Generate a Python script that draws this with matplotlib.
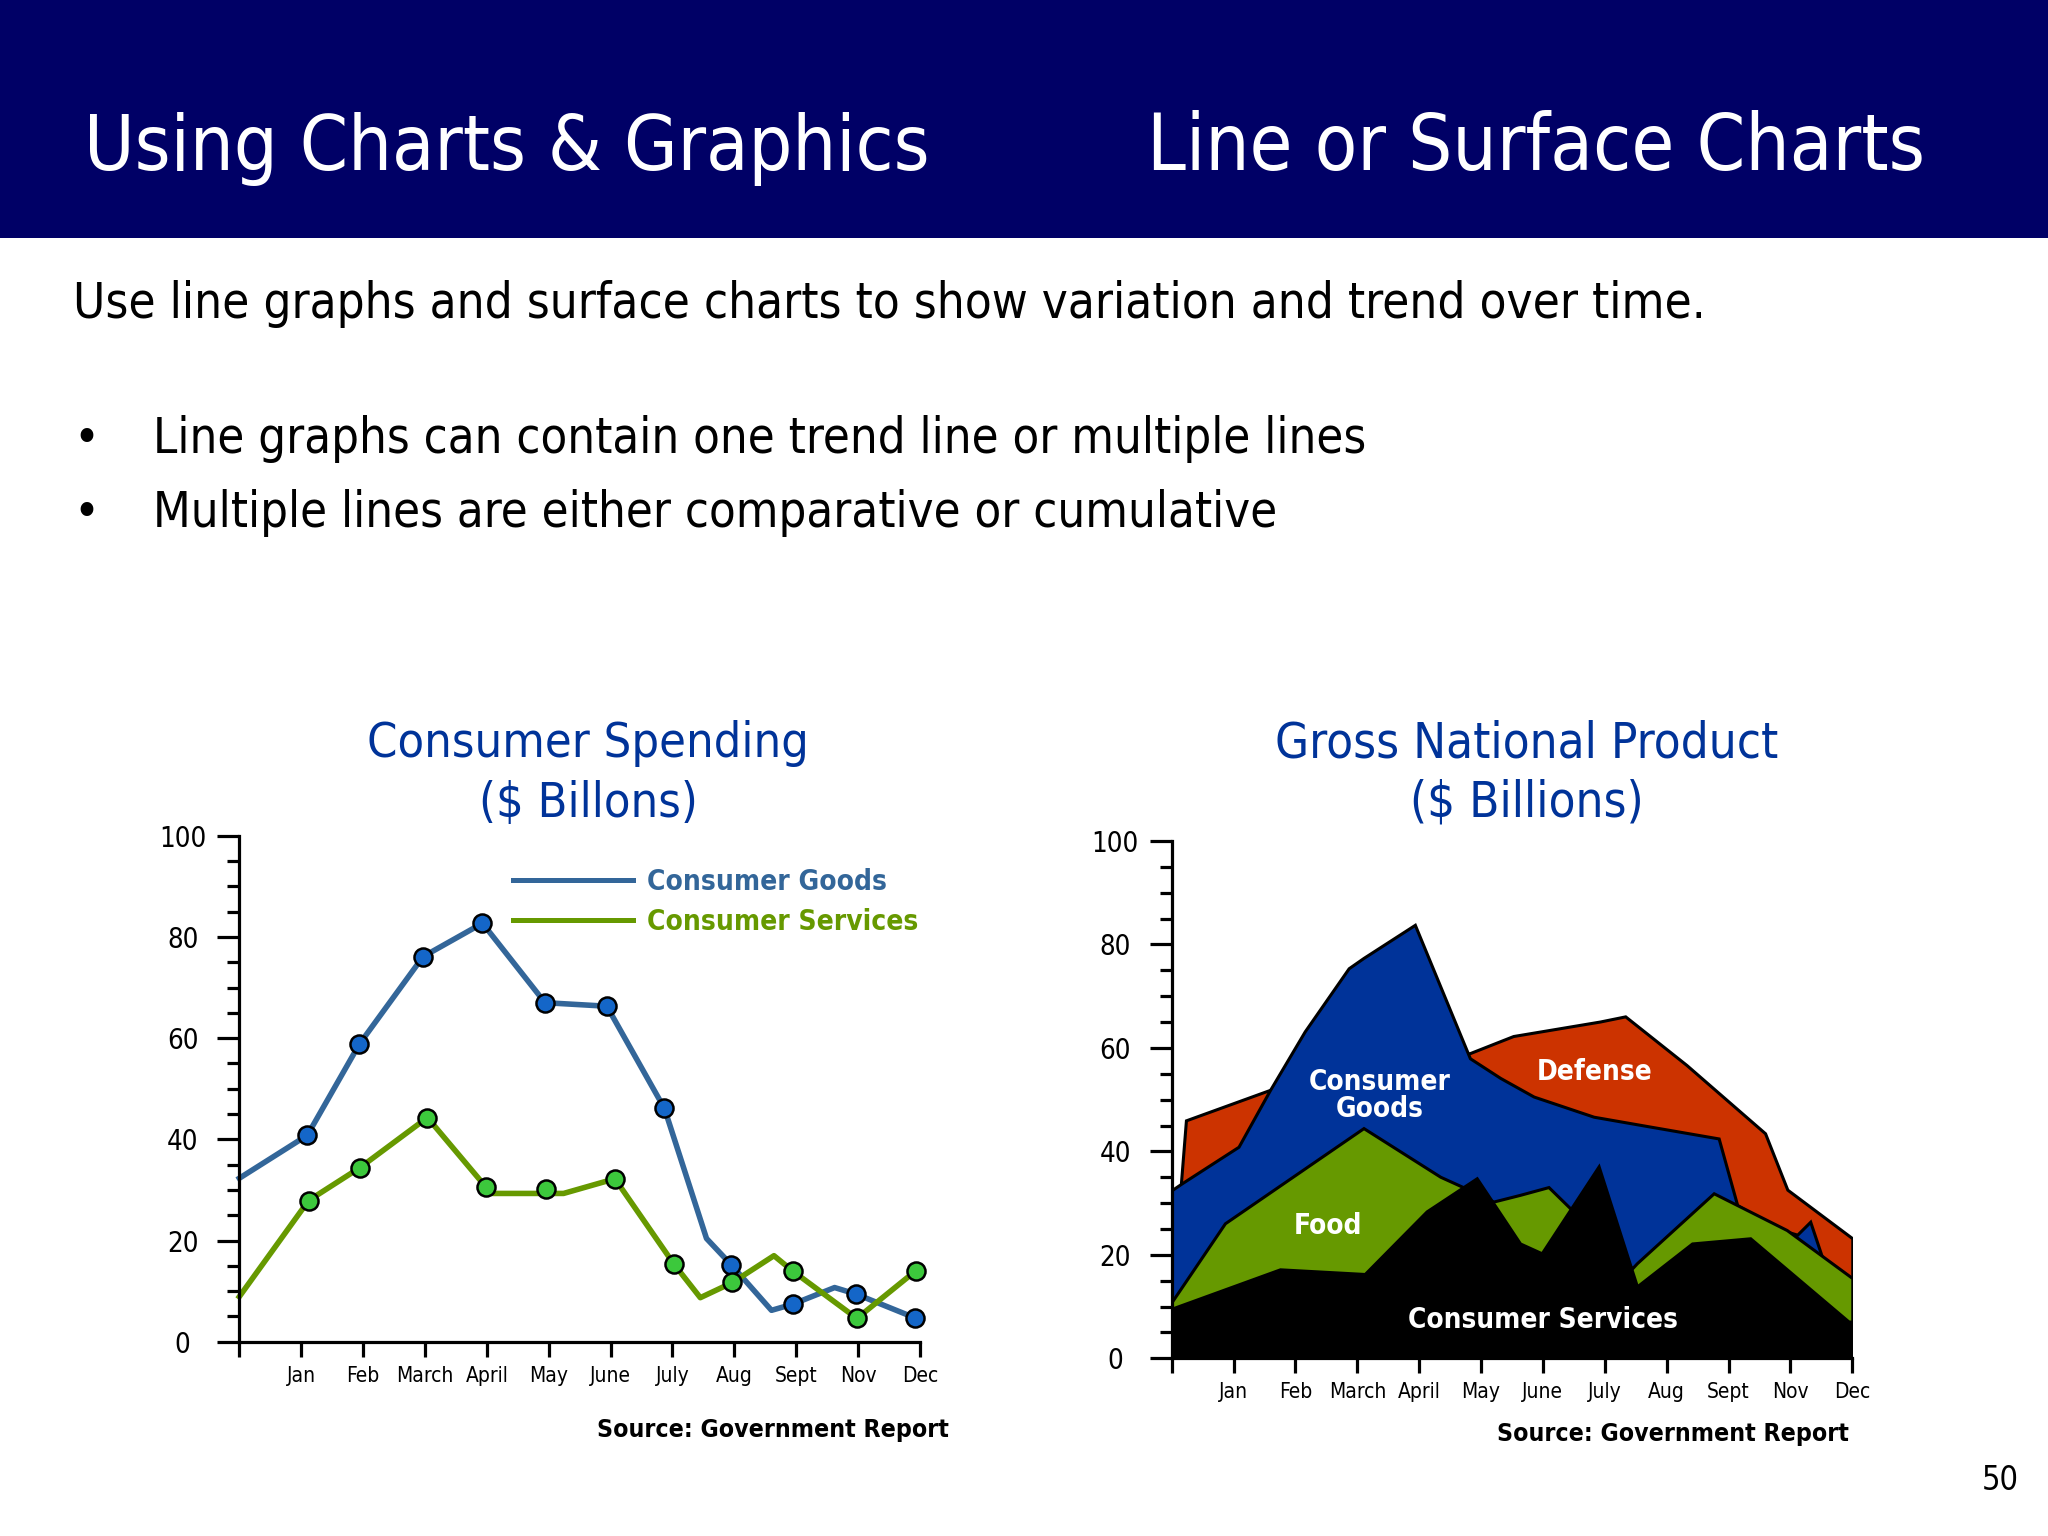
import os
import matplotlib
matplotlib.use('Agg')
import matplotlib.pyplot as plt
from matplotlib import font_manager as fm
from matplotlib.patches import Rectangle
from matplotlib.lines import Line2D
from matplotlib.ticker import MultipleLocator, FixedLocator

# ---------------- data ----------------
month_labels = ['', 'Jan', 'Feb', 'March', 'April', 'May', 'June', 'July', 'Aug', 'Sept', 'Nov', 'Dec']
y_ticks = [0, 20, 40, 60, 80, 100]

# Consumer Spending (line chart)
goods_x = [0, 1.10, 1.94, 2.97, 3.93, 4.94, 5.94, 6.87, 7.55, 7.95, 8.60, 8.94, 9.62, 9.97, 10.92]
goods_y = [32.3, 40.8, 58.8, 76.1, 82.7, 67.0, 66.3, 46.1, 20.4, 15.2, 6.2, 7.4, 10.7, 9.4, 4.7]
goods_mx = [1.10, 1.94, 2.97, 3.93, 4.94, 5.94, 6.87, 7.95, 8.94, 9.97, 10.92]
goods_my = [40.8, 58.8, 76.1, 82.7, 67.0, 66.3, 46.1, 15.2, 7.4, 9.4, 4.7]

services_x = [0, 1.12, 1.95, 3.04, 3.99, 4.10, 5.24, 6.07, 7.02, 7.45, 7.97, 8.64, 8.94, 9.98, 10.93]
services_y = [8.9, 27.9, 34.4, 44.3, 30.5, 29.3, 29.3, 32.2, 15.4, 8.7, 11.7, 17.0, 14.0, 4.6, 14.0]
services_mx = [1.12, 1.95, 3.04, 3.99, 4.95, 6.07, 7.02, 7.97, 8.94, 9.98, 10.93]
services_my = [27.9, 34.4, 44.3, 30.5, 30.1, 32.2, 15.4, 11.7, 14.0, 4.6, 14.0]

# Gross National Product (surface chart, overlapping areas)
defense_x = [0.15, 0.23, 1.59, 3.00, 4.82, 5.52, 6.92, 7.33, 8.32, 9.59, 9.95, 11.0]
defense_y = [34.0, 46.0, 51.9, 56.0, 59.0, 62.3, 65.1, 66.1, 56.7, 43.5, 32.6, 23.2]

cgoods_x = [0, 0.16, 1.08, 1.59, 2.15, 2.86, 3.10, 3.93, 4.82, 5.31, 5.85, 6.82, 7.73, 8.84, 9.14, 9.80, 10.11, 10.32, 10.51, 11.0]
cgoods_y = [32.5, 33.8, 40.9, 51.9, 63.2, 75.4, 77.4, 83.8, 58.0, 54.2, 50.6, 46.7, 44.8, 42.5, 29.6, 25.0, 23.9, 26.4, 19.6, 14.0]

food_x = [0, 0.86, 3.10, 4.34, 4.69, 5.20, 5.63, 6.09, 6.44, 7.00, 7.45, 7.52, 8.76, 9.94, 11.0]
food_y = [10.9, 26.1, 44.5, 35.1, 33.2, 30.3, 31.6, 33.1, 29.0, 20.0, 17.5, 18.4, 31.9, 24.8, 15.5]

cserv_x = [0, 1.75, 3.12, 4.12, 4.93, 5.63, 5.98, 6.90, 7.52, 8.41, 9.35, 10.94, 11.0]
cserv_y = [9.6, 17.2, 16.3, 28.4, 34.8, 22.2, 20.3, 37.1, 13.9, 22.2, 23.2, 7.1, 7.1]

# ---------------- style ----------------
C_NAVY = '#000066'
C_TITLE = '#003399'
C_GOODS = '#336699'
C_SERV = '#669900'
C_GOODS_M = '#1466c8'
C_SERV_M = '#3cc83c'
C_RED = '#cc3300'
C_BLUE = '#003399'
C_GREEN = '#669900'

W, H, DPI = 2048, 1536, 100


def _find(name):
    paths = [f.fname for f in fm.fontManager.ttflist]
    try:
        paths += fm.findSystemFonts()
    except Exception:
        pass
    for p in paths:
        if os.path.basename(p).lower() == name.lower():
            return p
    return None


REG = _find('DejaVuSansCondensed.ttf')
BLD = _find('DejaVuSansCondensed-Bold.ttf')
FALLBACK = 'DejaVu Sans'


def fp(size, bold=False):
    path = BLD if bold else REG
    if path:
        return fm.FontProperties(fname=path, size=size)
    return fm.FontProperties(family=FALLBACK, weight='bold' if bold else 'normal', size=size)


fig = plt.figure(figsize=(W / DPI, H / DPI), dpi=DPI)
fig.patch.set_facecolor('white')
renderer = fig.canvas.get_renderer()


def put(x, y, s, size, target_w=None, bold=False, color='black', ha='left', va='baseline'):
    t = fig.text(x / W, 1 - y / H, s, fontproperties=fp(size, bold), color=color, ha=ha, va=va)
    if target_w:
        for _ in range(2):
            w = t.get_window_extent(renderer).width
            size = size * target_w / w
            t.set_fontproperties(fp(size, bold))
    return t, size


def fit_size(s, target_w, size, bold=False):
    t = fig.text(0, 0, s, fontproperties=fp(size, bold))
    for _ in range(2):
        w = t.get_window_extent(renderer).width
        size = size * target_w / w
        t.set_fontproperties(fp(size, bold))
    t.remove()
    return size


# ---------------- header ----------------
fig.add_artist(Rectangle((0, 1 - 238 / H), 1, 238 / H, transform=fig.transFigure,
                         facecolor=C_NAVY, edgecolor='none', zorder=0))
put(84, 170, 'Using Charts & Graphics', 58, target_w=846, color='white')
put(1147, 170, 'Line or Surface Charts', 58, target_w=778, color='white')

put(73, 318, 'Use line graphs and surface charts to show variation and trend over time.', 34, target_w=1630)
_, bsize = put(153, 453, 'Line graphs can contain one trend line or multiple lines', 34, target_w=1216)
put(153, 527, 'Multiple lines are either comparative or cumulative', bsize)
put(86, 453, '\u2022', bsize, ha='center')
put(86, 527, '\u2022', bsize, ha='center')

# ---------------- chart titles ----------------
_, tsize = put(588, 757, 'Consumer Spending', 34, target_w=440, color=C_TITLE, ha='center')
put(588, 817, '($ Billons)', tsize, color=C_TITLE, ha='center')
_, tsize2 = put(1527, 757, 'Gross National Product', 34, target_w=504, color=C_TITLE, ha='center')
put(1527, 817, '($ Billions)', tsize2, color=C_TITLE, ha='center')


# ---------------- axes ----------------
def setup_axes(l, r, b, t):
    ax = fig.add_axes([l / W, 1 - b / H, (r - l) / W, (b - t) / H])
    ax.set_xlim(0, 11)
    ax.set_ylim(0, 100)
    ax.patch.set_alpha(0)
    for s in ('top', 'right'):
        ax.spines[s].set_visible(False)
    for s in ('left', 'bottom'):
        ax.spines[s].set_linewidth(2.3)
        ax.spines[s].set_zorder(6)
        ax.spines[s].set_capstyle('projecting')
    ax.yaxis.set_major_locator(FixedLocator(y_ticks))
    ax.yaxis.set_minor_locator(MultipleLocator(5))
    ax.set_yticklabels([str(v) for v in y_ticks])
    ax.xaxis.set_major_locator(FixedLocator(list(range(len(month_labels)))))
    ax.set_xticklabels(month_labels)
    ax.tick_params(axis='y', which='major', direction='out', length=15.8, width=2.3, pad=25)
    ax.tick_params(axis='y', which='minor', direction='out', length=8.6, width=2.3)
    ax.tick_params(axis='x', which='major', direction='out', length=10.8, width=2.3, pad=6.5)
    for lab in ax.get_yticklabels():
        lab.set_fontproperties(fp(19.8))
        lab.set_ha('center')
    for lab in ax.get_xticklabels():
        lab.set_fontproperties(fp(15.0))
    return ax


axL = setup_axes(239.3, 920.0, 1341.7, 835.7)
axL.plot(goods_x, goods_y, color=C_GOODS, lw=4.0, zorder=3, clip_on=False, solid_joinstyle='round')
axL.plot(services_x, services_y, color=C_SERV, lw=4.0, zorder=3, clip_on=False, solid_joinstyle='round')
axL.plot(goods_mx, goods_my, ls='none', marker='o', ms=13, mfc=C_GOODS_M, mec='black', mew=1.8,
         zorder=4, clip_on=False)
axL.plot(services_mx, services_my, ls='none', marker='o', ms=13, mfc=C_SERV_M, mec='black', mew=1.8,
         zorder=4, clip_on=False)

fL = fit_size('Consumer Goods', 239, 20, bold=True)
fpx = fL * DPI / 72
handles = [Line2D([], [], color=C_GOODS, lw=3.6), Line2D([], [], color=C_SERV, lw=3.6)]
axL.legend(handles, ['Consumer Goods', 'Consumer Services'], loc='upper left',
           bbox_to_anchor=(512.7 / W, 1 - (889.3 - 0.76 * fpx) / H), bbox_transform=fig.transFigure,
           frameon=False, prop=fp(fL, True), handlelength=120 / fpx, handletextpad=14 / fpx,
           labelspacing=40 / fpx - 1.0, borderpad=0, borderaxespad=0,
           labelcolor=[C_GOODS, C_SERV])

axR = setup_axes(1171.7, 1852.3, 1358.3, 841.0)
for xs, ys, col in ((defense_x, defense_y, C_RED), (cgoods_x, cgoods_y, C_BLUE),
                    (food_x, food_y, C_GREEN), (cserv_x, cserv_y, 'black')):
    axR.fill_between(xs, ys, 0, facecolor=col, edgecolor='black', lw=2.2, joinstyle='miter', zorder=1)

# area labels
_, asz = put(1380, 1090, 'Consumer', 19, target_w=142, bold=True, color='white', ha='center')
put(1380, 1117, 'Goods', asz, bold=True, color='white', ha='center')
put(1328, 1234, 'Food', asz, bold=True, color='white', ha='center')
put(1595, 1080, 'Defense', asz, bold=True, color='white', ha='center')
put(1543, 1328, 'Consumer Services', asz, bold=True, color='white', ha='center')

# sources & page number
_, ssz = put(949, 1437, 'Source: Government Report', 18, target_w=352, bold=True, ha='right')
put(1849, 1441, 'Source: Government Report', ssz, bold=True, ha='right')
put(2019, 1490, '50', 26, target_w=37, ha='right')

fig.savefig('out.png', dpi=DPI)
